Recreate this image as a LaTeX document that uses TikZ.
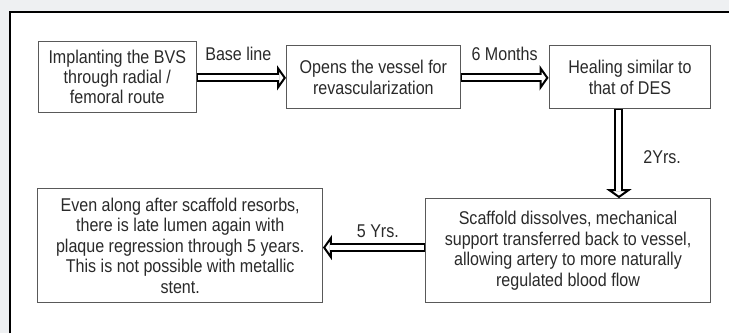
\documentclass[tikz,border=0pt]{standalone}
\usepackage{fontspec}
\setmainfont{Liberation Sans}[FakeStretch=0.87]
\usetikzlibrary{arrows.meta,positioning}
\definecolor{pagegray}{HTML}{EEF0F2}
\definecolor{inkgray}{HTML}{2A2A2A}

\begin{document}
\begin{tikzpicture}[x=1pt,y=-1pt,
    font=\fontsize{18.5}{20.5}\selectfont,
    stagebox/.style={draw=black!65,line width=1pt,fill=white,text=inkgray,
        align=center,inner sep=2pt},
    hollowarrow/.style={draw=black,line width=9pt,
        -{Triangle[open,length=9pt,width=25pt,line width=2pt]},
        postaction={draw=white,line width=5pt,-,shorten <=1pt,shorten >=7pt}},
    steplabel/.style={text=inkgray,inner sep=1pt}]
% page and frame
\fill[pagegray] (0,0) rectangle (730,334);
\fill[white] (10,12) rectangle (730,334);
\draw[line width=2.5pt] (10,334) -- (10,12) -- (730,12);
\useasboundingbox (0,0) rectangle (730,334);

\node[stagebox,minimum width=158pt,minimum height=71pt] (implant) at (117.5,77)
    {Implanting the BVS\\through radial /\\femoral route};
\node[stagebox,minimum width=174pt,minimum height=63pt] (opens) at (374,77.5)
    {Opens the vessel for\\revascularization};
\node[stagebox,minimum width=162pt,minimum height=63pt] (healing) at (631,77.5)
    {Healing similar to\\that of DES};
\node[stagebox,minimum width=286pt,minimum height=104pt] (dissolve) at (569,251)
    {Scaffold dissolves, mechanical\\support transferred back to vessel,\\allowing artery to more naturally\\regulated blood flow};
\node[stagebox,minimum width=285pt,minimum height=114pt] (lumen) at (180.5,246)
    {Even along after scaffold resorbs,\\there is late lumen again with\\plaque regression through 5 years.\\This is not possible with metallic\\stent.};

\draw[hollowarrow] (implant.east |- 0,78) -- (opens.west |- 0,78)
    node[steplabel,midway,above=12pt,xshift=-3pt] {Base line};
\draw[hollowarrow] (opens.east |- 0,78) -- (healing.west |- 0,78)
    node[steplabel,midway,above=12pt] {6 Months};
\draw[hollowarrow] ([xshift=-11pt]healing.south) -- ([xshift=-11pt]healing.south |- dissolve.north)
    node[steplabel,midway,right=19pt,yshift=-3pt] {2Yrs.};
\draw[hollowarrow] (dissolve.west |- 0,248) -- (lumen.east |- 0,248)
    node[steplabel,midway,above=4pt,xshift=4pt] {5 Yrs.};
\end{tikzpicture}
\end{document}
